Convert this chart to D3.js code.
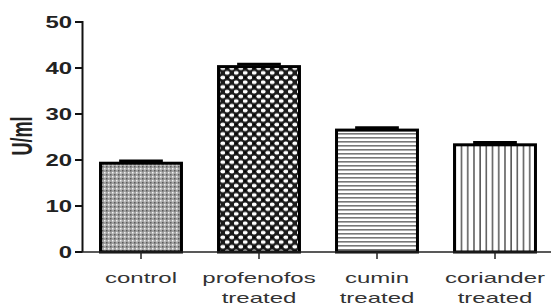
<!DOCTYPE html>
<html>
<head>
<meta charset="utf-8">
<script src="https://cdn.jsdelivr.net/npm/d3@7"></script>
<style>
    body { margin: 0; background: #fff; }
    svg { display: block; font-family: "Liberation Sans", Arial, sans-serif; }
</style>
</head>
<body>
<svg width="551" height="305"></svg>
<script>
// values
var groups = ["control", "profenofos", "cumin", "coriander"]
var labelLines = [["control"], ["profenofos", "treated"], ["cumin", "treated"], ["coriander", "treated"]]
var means = [19.3, 40.3, 26.5, 23.3]
var errors = [0.5, 0.5, 0.5, 0.5]
var yTicks = [0, 10, 20, 30, 40, 50]

var svg = d3.select("svg")
var stretch = 1.6

var x = d3.scaleBand().domain(groups).range([82, 554]).paddingInner(0.314).paddingOuter(0.157)
var y = d3.scaleLinear().domain([0, 50]).range([252, 22])

// fill patterns, one per bar
var defs = svg.append("defs")

var p0 = defs.append("pattern").attr("id", "pat-control")
    .attr("patternUnits", "userSpaceOnUse").attr("width", 4).attr("height", 4)
p0.append("rect").attr("width", 4).attr("height", 4).attr("fill", "#a3a3a3")
p0.append("rect").attr("x", 0).attr("y", 0).attr("width", 1.5).attr("height", 1.5).attr("fill", "#f2f2f2")
p0.append("rect").attr("x", 2).attr("y", 2).attr("width", 1.5).attr("height", 1.5).attr("fill", "#5a5a5a")

var p1 = defs.append("pattern").attr("id", "pat-profenofos")
    .attr("patternUnits", "userSpaceOnUse").attr("width", 9).attr("height", 9.4)
p1.append("rect").attr("width", 9).attr("height", 9.4).attr("fill", "#1c1c1c")
p1.append("ellipse").attr("cx", 6.75).attr("cy", 2.35).attr("rx", 2.4).attr("ry", 1.9).attr("fill", "#fff")
p1.append("ellipse").attr("cx", 2.25).attr("cy", 7.05).attr("rx", 2.4).attr("ry", 1.9).attr("fill", "#fff")
p1.append("ellipse").attr("cx", 2.25).attr("cy", 2.35).attr("rx", 1.2).attr("ry", 0.9).attr("fill", "#000")

var p2 = defs.append("pattern").attr("id", "pat-cumin")
    .attr("patternUnits", "userSpaceOnUse").attr("width", 8).attr("height", 4)
p2.append("rect").attr("width", 8).attr("height", 4).attr("fill", "#fff")
p2.append("rect").attr("x", 0).attr("y", 1).attr("width", 8).attr("height", 1.6).attr("fill", "#777")

var p3 = defs.append("pattern").attr("id", "pat-coriander")
    .attr("patternUnits", "userSpaceOnUse").attr("width", 6.2).attr("height", 8)
p3.append("rect").attr("width", 6.2).attr("height", 8).attr("fill", "#fff")
p3.append("rect").attr("x", 2).attr("y", 0).attr("width", 1.5).attr("height", 8).attr("fill", "#555")

// bars
svg.append("g")
    .selectAll("rect")
    .data(groups)
    .join("rect")
    .attr("x", d => x(d))
    .attr("y", (d, i) => y(means[i]))
    .attr("width", x.bandwidth())
    .attr("height", (d, i) => y(0) - y(means[i]))
    .attr("fill", d => `url(#pat-${d})`)
    .attr("stroke", "#000")
    .attr("stroke-width", 3)

// error bars (only the upper half shows above the bar)
var eb = svg.append("g")
groups.forEach((g, i) => {
    var cx = x(g) + x.bandwidth() / 2
    var w = x.bandwidth() * 0.27
    eb.append("line")
        .attr("x1", cx).attr("x2", cx)
        .attr("y1", y(means[i])).attr("y2", y(means[i] + errors[i]))
        .attr("stroke", "#000").attr("stroke-width", 2)
    eb.append("line")
        .attr("x1", cx - w).attr("x2", cx + w)
        .attr("y1", y(means[i] + errors[i])).attr("y2", y(means[i] + errors[i]))
        .attr("stroke", "#000").attr("stroke-width", 3)
})

// y axis
var ya = svg.append("g")
ya.append("line")
    .attr("x1", 82.5).attr("x2", 82.5)
    .attr("y1", y(50) - 1).attr("y2", y(0))
    .attr("stroke", "#111").attr("stroke-width", 2)
ya.selectAll("line.tick")
    .data(yTicks)
    .join("line")
    .attr("class", "tick")
    .attr("x1", 75).attr("x2", 82.5)
    .attr("y1", d => y(d)).attr("y2", d => y(d))
    .attr("stroke", "#111").attr("stroke-width", 2)
ya.selectAll("text")
    .data(yTicks)
    .join("text")
    .attr("transform", d => `translate(72,${y(d)}) scale(1.45,1)`)
    .attr("text-anchor", "end")
    .attr("dy", "0.36em")
    .attr("font-size", 16.5)
    .attr("font-weight", "bold")
    .attr("fill", "#222")
    .text(d => d)

svg.append("text")
    .attr("transform", "translate(22,136) scale(1.6,1) rotate(-90)")
    .attr("text-anchor", "middle")
    .attr("dy", "0.36em")
    .attr("font-size", 18)
    .attr("font-weight", "bold")
    .attr("fill", "#222")
    .text("U/ml")

// x axis
var xa = svg.append("g")
xa.append("line")
    .attr("x1", 82).attr("x2", 551)
    .attr("y1", y(0)).attr("y2", y(0))
    .attr("stroke", "#222").attr("stroke-width", 1.5)
xa.selectAll("line.tick")
    .data(groups)
    .join("line")
    .attr("class", "tick")
    .attr("x1", d => x(d) + x.bandwidth() / 2).attr("x2", d => x(d) + x.bandwidth() / 2)
    .attr("y1", y(0)).attr("y2", y(0) + 7)
    .attr("stroke", "#222").attr("stroke-width", 1.5)

groups.forEach((g, i) => {
    labelLines[i].forEach((line, j) => {
        xa.append("text")
            .attr("transform", `translate(${x(g) + x.bandwidth() / 2},${283 + j * 20}) scale(${stretch},1)`)
            .attr("text-anchor", "middle")
            .attr("font-size", 15)
            .attr("fill", "#333")
            .text(line)
    })
})
</script>
</body>
</html>
